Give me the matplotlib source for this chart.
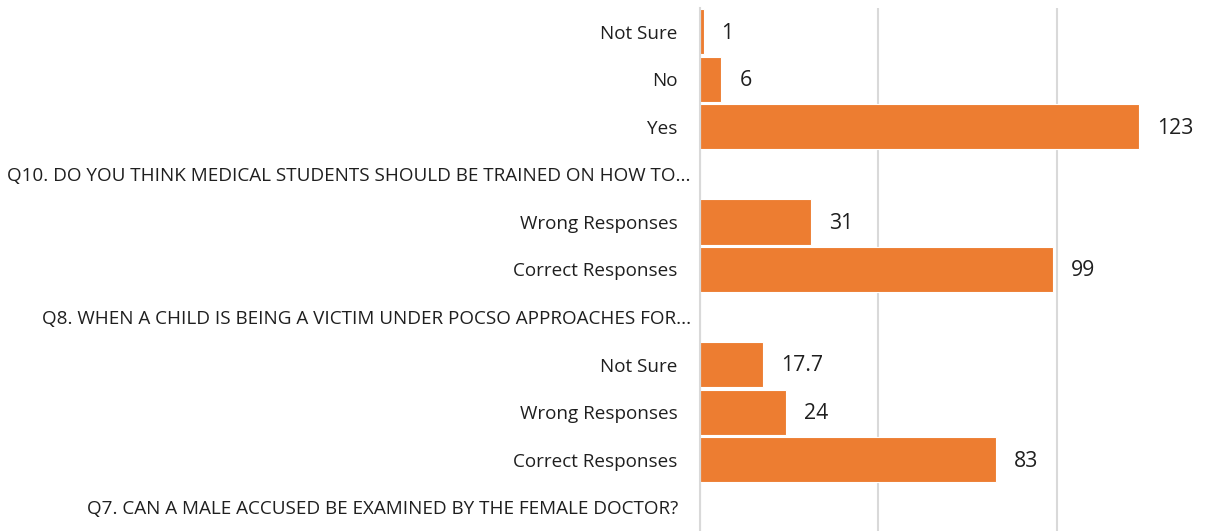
import matplotlib.pyplot as plt
import matplotlib.transforms as mtransforms

plt.rcParams["font.family"] = ["Open Sans", "DejaVu Sans"]

# rows listed bottom to top, None = group header without a bar
aLabel = ["Q7. CAN A MALE ACCUSED BE EXAMINED BY THE FEMALE DOCTOR?",
          "Correct Responses",
          "Wrong Responses",
          "Not Sure",
          "Q8. WHEN A CHILD IS BEING A VICTIM UNDER POCSO APPROACHES FOR...",
          "Correct Responses",
          "Wrong Responses",
          "Q10. DO YOU THINK MEDICAL STUDENTS SHOULD BE TRAINED ON HOW TO...",
          "Yes",
          "No",
          "Not Sure"]
aValue = [None, 83, 24, 17.7, None, 99, 31, None, 123, 6, 1]
aValue_text = ["", "83", "24", "17.7", "", "99", "31", "", "123", "6", "1"]

sColor_bar = '#ED7D31'
sColor_grid = '#d9d9d9'
sColor_text = '#1f1f1f'

fig = plt.figure(figsize=(12.1, 5.31), dpi=100)
ax = fig.add_axes([700/1210, 0.0, 1 - 700/1210, 1 - 8/531])

for i, v in enumerate(aValue):
    if v is None:
        continue
    ax.barh(i, v, height=0.95, color=sColor_bar, edgecolor='white', linewidth=0.8, zorder=3)
    ax.annotate(aValue_text[i], xy=(v, i), xytext=(13, -1), textcoords='offset points',
                ha='left', va='center', fontsize=15.3, color=sColor_text)

ax.set_ylim(-0.5, len(aLabel) - 0.5)
ax.set_xlim(0, 143)
ax.set_yticks(range(len(aLabel)))
ax.set_yticklabels(aLabel, fontsize=13.6, color=sColor_text)
ax.set_xticks([0, 50, 100])
ax.tick_params(axis='y', length=0, pad=16)
ax.tick_params(axis='x', length=0, labelbottom=False)

# truncated labels sit closer to the axis
shift = mtransforms.ScaledTranslation(13/100, 0, fig.dpi_scale_trans)
for lab in ax.get_yticklabels():
    if lab.get_text().endswith('...'):
        lab.set_transform(lab.get_transform() + shift)

ax.grid(axis='x', color=sColor_grid, linewidth=1.5, zorder=0)
for s in ['top', 'right', 'bottom']:
    ax.spines[s].set_visible(False)
ax.spines['left'].set_color(sColor_grid)
ax.spines['left'].set_linewidth(1.5)
ax.spines['left'].set_zorder(4)

fig.savefig('out.png', dpi=100)
